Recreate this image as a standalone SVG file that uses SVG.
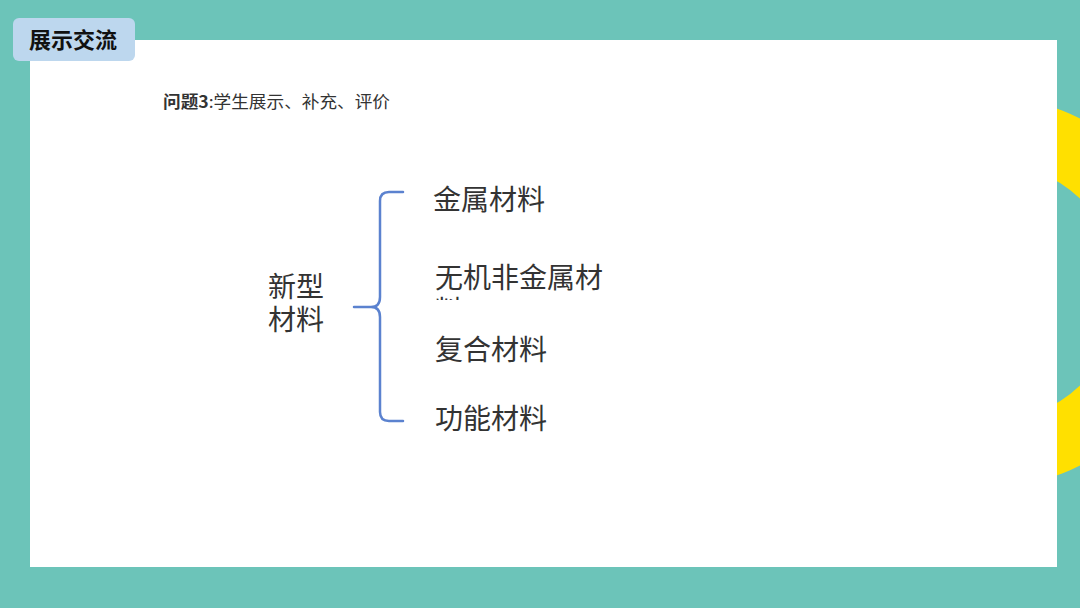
<svg xmlns="http://www.w3.org/2000/svg" width="1080" height="608" viewBox="0 0 1080 608">
  <defs>
    <style>
      .cjk { font-family: "Noto Sans CJK SC", "Noto Sans", sans-serif; }
      .item { font-size: 28px; fill: #333333; }
      .brace { fill: none; stroke: #5B82CF; stroke-width: 2.5; stroke-linecap: round; stroke-linejoin: round; }
    </style>
    <clipPath id="cut">
      <rect x="430" y="296" width="40" height="4"/>
    </clipPath>
  </defs>
  <rect x="0" y="0" width="1080" height="608" fill="#6CC4B9"/>
  <circle cx="991" cy="292" r="162" fill="none" stroke="#FFE000" stroke-width="66"/>
  <rect x="30" y="40" width="1027" height="527" fill="#FFFFFF"/>
  <g id="tab">
    <rect x="13" y="18" width="122" height="43" rx="6" fill="#BDD7EE"/>
    <text class="cjk" x="29" y="48" font-size="22" font-weight="bold" fill="#111111">展示交流</text>
  </g>
  <g id="subtitle">
    <text class="cjk" x="163" y="108" font-size="16.5" fill="#333333" textLength="227" lengthAdjust="spacingAndGlyphs"><tspan font-weight="bold">问题3</tspan>:学生展示、补充、评价</text>
  </g>
  <g id="root">
    <text class="cjk item" x="268" y="297">新型</text>
    <text class="cjk item" x="268" y="330">材料</text>
  </g>
  <g id="connectors">
    <path class="brace" d="M403,192 L389,192 Q380,192 380,201 L380,297 Q380,307 371,307 L354,307 M371,307 Q380,307 380,317 L380,412 Q380,421 389,421 L403,421"/>
  </g>
  <g id="n1"><text class="cjk item" x="433" y="210">金属材料</text></g>
  <g id="n2">
    <text class="cjk item" x="435" y="288">无机非金属材</text>
    <text class="cjk item" x="435" y="321" clip-path="url(#cut)">料</text>
  </g>
  <g id="n3"><text class="cjk item" x="435" y="360">复合材料</text></g>
  <g id="n4"><text class="cjk item" x="435" y="429">功能材料</text></g>
</svg>
